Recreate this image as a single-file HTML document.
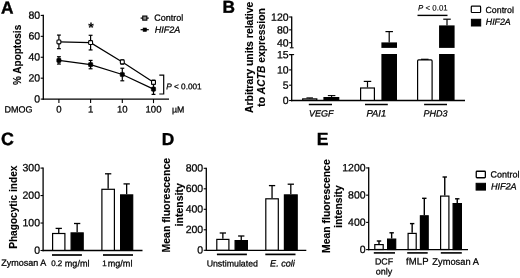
<!DOCTYPE html>
<html lang="en">
<head>
<meta charset="utf-8">
<title>Figure</title>
<style>
html,body{margin:0;padding:0;background:#fff;}
body{width:520px;height:278px;overflow:hidden;}
svg{display:block;font-family:"Liberation Sans", Arial, Helvetica, sans-serif;fill:#000;}
</style>
</head>
<body>
<svg width="520" height="278" viewBox="0 0 520 278">
<rect x="0" y="0" width="520" height="278" fill="#fff" stroke="none"/>
<text x="1.00" y="13.40" font-size="17.3" text-anchor="start" font-weight="bold" font-style="normal" stroke="#000" stroke-width="0.4" transform="rotate(0.03 1.00 13.40)" >A</text>
<line x1="43.30" y1="14.82" x2="43.30" y2="99.75" stroke="#000" stroke-width="1.3" />
<line x1="40.70" y1="99.10" x2="43.30" y2="99.10" stroke="#000" stroke-width="1.1" />
<text x="40.20" y="102.40" font-size="10.5" text-anchor="end" font-weight="normal" font-style="normal" stroke="#000" stroke-width="0.25" transform="rotate(0.03 40.20 102.40)" >0</text>
<line x1="40.70" y1="78.18" x2="43.30" y2="78.18" stroke="#000" stroke-width="1.1" />
<text x="40.20" y="81.48" font-size="10.5" text-anchor="end" font-weight="normal" font-style="normal" stroke="#000" stroke-width="0.25" transform="rotate(0.03 40.20 81.48)" >20</text>
<line x1="40.70" y1="57.26" x2="43.30" y2="57.26" stroke="#000" stroke-width="1.1" />
<text x="40.20" y="60.56" font-size="10.5" text-anchor="end" font-weight="normal" font-style="normal" stroke="#000" stroke-width="0.25" transform="rotate(0.03 40.20 60.56)" >40</text>
<line x1="40.70" y1="36.34" x2="43.30" y2="36.34" stroke="#000" stroke-width="1.1" />
<text x="40.20" y="39.64" font-size="10.5" text-anchor="end" font-weight="normal" font-style="normal" stroke="#000" stroke-width="0.25" transform="rotate(0.03 40.20 39.64)" >60</text>
<line x1="40.70" y1="15.42" x2="43.30" y2="15.42" stroke="#000" stroke-width="1.1" />
<text x="40.20" y="18.72" font-size="10.5" text-anchor="end" font-weight="normal" font-style="normal" stroke="#000" stroke-width="0.25" transform="rotate(0.03 40.20 18.72)" >80</text>
<line x1="42.65" y1="99.10" x2="169.00" y2="99.10" stroke="#000" stroke-width="1.3" />
<line x1="58.90" y1="99.10" x2="58.90" y2="103.10" stroke="#000" stroke-width="1.1" />
<line x1="90.60" y1="99.10" x2="90.60" y2="103.10" stroke="#000" stroke-width="1.1" />
<line x1="122.30" y1="99.10" x2="122.30" y2="103.10" stroke="#000" stroke-width="1.1" />
<line x1="153.50" y1="99.10" x2="153.50" y2="103.10" stroke="#000" stroke-width="1.1" />
<text x="58.90" y="112.40" font-size="9.6" text-anchor="middle" font-weight="normal" font-style="normal" stroke="#000" stroke-width="0.25" transform="rotate(0.03 58.90 112.40)" >0</text>
<text x="90.60" y="112.40" font-size="9.6" text-anchor="middle" font-weight="normal" font-style="normal" stroke="#000" stroke-width="0.25" transform="rotate(0.03 90.60 112.40)" >1</text>
<text x="122.30" y="112.40" font-size="9.6" text-anchor="middle" font-weight="normal" font-style="normal" stroke="#000" stroke-width="0.25" transform="rotate(0.03 122.30 112.40)" >10</text>
<text x="153.50" y="112.40" font-size="9.6" text-anchor="middle" font-weight="normal" font-style="normal" stroke="#000" stroke-width="0.25" transform="rotate(0.03 153.50 112.40)" >100</text>
<text x="4.60" y="112.40" font-size="9.0" text-anchor="start" font-weight="normal" font-style="normal" stroke="#000" stroke-width="0.25" transform="rotate(0.03 4.60 112.40)" >DMOG</text>
<text x="172.00" y="112.40" font-size="8.8" text-anchor="start" font-weight="normal" font-style="normal" stroke="#000" stroke-width="0.25" transform="rotate(0.03 172.00 112.40)" >µM</text>
<text x="21.40" y="54.90" font-size="10.0" text-anchor="middle" font-weight="bold" font-style="normal" stroke="#000" stroke-width="0.15" transform="rotate(-90 21.40 54.90)" >% Apoptosis</text>
<polyline points="58.90,41.88 90.60,42.62 122.30,61.97 153.50,82.36" fill="none" stroke="#000" stroke-width="1.2"/>
<polyline points="58.90,60.40 90.60,64.58 122.30,74.52 153.50,89.16" fill="none" stroke="#000" stroke-width="1.2"/>
<line x1="58.90" y1="56.74" x2="58.90" y2="64.06" stroke="#000" stroke-width="1.2" />
<line x1="56.95" y1="56.74" x2="60.85" y2="56.74" stroke="#000" stroke-width="1.2" />
<line x1="56.95" y1="64.06" x2="60.85" y2="64.06" stroke="#000" stroke-width="1.2" />
<rect x="56.80" y="58.30" width="4.20" height="4.20" fill="#000" stroke="#000" stroke-width="0.6" rx="0.8"/>
<line x1="90.60" y1="60.40" x2="90.60" y2="68.77" stroke="#000" stroke-width="1.2" />
<line x1="88.65" y1="60.40" x2="92.55" y2="60.40" stroke="#000" stroke-width="1.2" />
<line x1="88.65" y1="68.77" x2="92.55" y2="68.77" stroke="#000" stroke-width="1.2" />
<rect x="88.50" y="62.48" width="4.20" height="4.20" fill="#000" stroke="#000" stroke-width="0.6" rx="0.8"/>
<line x1="122.30" y1="68.24" x2="122.30" y2="80.79" stroke="#000" stroke-width="1.2" />
<line x1="120.35" y1="68.24" x2="124.25" y2="68.24" stroke="#000" stroke-width="1.2" />
<line x1="120.35" y1="80.79" x2="124.25" y2="80.79" stroke="#000" stroke-width="1.2" />
<rect x="120.20" y="72.42" width="4.20" height="4.20" fill="#000" stroke="#000" stroke-width="0.6" rx="0.8"/>
<line x1="153.50" y1="83.93" x2="153.50" y2="94.39" stroke="#000" stroke-width="1.2" />
<line x1="151.55" y1="83.93" x2="155.45" y2="83.93" stroke="#000" stroke-width="1.2" />
<line x1="151.55" y1="94.39" x2="155.45" y2="94.39" stroke="#000" stroke-width="1.2" />
<rect x="151.40" y="87.06" width="4.20" height="4.20" fill="#000" stroke="#000" stroke-width="0.6" rx="0.8"/>
<line x1="58.90" y1="35.08" x2="58.90" y2="48.68" stroke="#000" stroke-width="1.2" />
<line x1="56.95" y1="35.08" x2="60.85" y2="35.08" stroke="#000" stroke-width="1.2" />
<line x1="56.95" y1="48.68" x2="60.85" y2="48.68" stroke="#000" stroke-width="1.2" />
<rect x="56.95" y="39.93" width="3.90" height="3.90" fill="#fff" stroke="#000" stroke-width="1.1" rx="0.9"/>
<line x1="90.60" y1="35.29" x2="90.60" y2="49.94" stroke="#000" stroke-width="1.2" />
<line x1="88.65" y1="35.29" x2="92.55" y2="35.29" stroke="#000" stroke-width="1.2" />
<line x1="88.65" y1="49.94" x2="92.55" y2="49.94" stroke="#000" stroke-width="1.2" />
<rect x="88.65" y="40.67" width="3.90" height="3.90" fill="#fff" stroke="#000" stroke-width="1.1" rx="0.9"/>
<line x1="122.30" y1="59.87" x2="122.30" y2="64.06" stroke="#000" stroke-width="1.2" />
<line x1="120.35" y1="59.87" x2="124.25" y2="59.87" stroke="#000" stroke-width="1.2" />
<line x1="120.35" y1="64.06" x2="124.25" y2="64.06" stroke="#000" stroke-width="1.2" />
<rect x="120.35" y="60.02" width="3.90" height="3.90" fill="#fff" stroke="#000" stroke-width="1.1" rx="0.9"/>
<line x1="153.50" y1="80.27" x2="153.50" y2="84.46" stroke="#000" stroke-width="1.2" />
<line x1="151.55" y1="80.27" x2="155.45" y2="80.27" stroke="#000" stroke-width="1.2" />
<line x1="151.55" y1="84.46" x2="155.45" y2="84.46" stroke="#000" stroke-width="1.2" />
<rect x="151.55" y="80.41" width="3.90" height="3.90" fill="#fff" stroke="#000" stroke-width="1.1" rx="0.9"/>
<text x="91.10" y="32.30" font-size="14" text-anchor="middle" font-weight="bold" font-style="normal" stroke="#000" stroke-width="0.1" transform="rotate(0.03 91.10 32.30)" >*</text>
<line x1="140.60" y1="18.10" x2="148.80" y2="18.10" stroke="#000" stroke-width="1.2" />
<rect x="142.75" y="16.05" width="4.10" height="4.10" fill="#8a8a8a" stroke="#000" stroke-width="1.1" />
<line x1="140.60" y1="29.70" x2="148.80" y2="29.70" stroke="#000" stroke-width="1.2" />
<rect x="143.10" y="28.00" width="3.40" height="3.40" fill="#000" stroke="#000" stroke-width="0.6" />
<text x="154.20" y="20.70" font-size="9.0" text-anchor="start" font-weight="normal" font-style="normal" stroke="#000" stroke-width="0.25" transform="rotate(0.03 154.20 20.70)" >Control</text>
<text x="154.80" y="32.70" font-size="9.0" text-anchor="start" font-weight="normal" font-style="italic" stroke="#000" stroke-width="0.25" transform="rotate(0.03 154.80 32.70)" >HIF2A</text>
<polyline points="159.3,75.2 163.7,75.2 163.7,94.0 159.3,94.0" fill="none" stroke="#000" stroke-width="1.2"/>
<text x="166.3" y="89.2" font-size="8.2" stroke="#000" stroke-width="0.25" transform="rotate(0.03 166.3 89.2)"><tspan font-style="italic">P</tspan> &lt; 0.001</text>
<text x="222.60" y="12.70" font-size="17.3" text-anchor="start" font-weight="bold" font-style="normal" stroke="#000" stroke-width="0.4" transform="rotate(0.03 222.60 12.70)" >B</text>
<line x1="291.70" y1="16.40" x2="291.70" y2="47.60" stroke="#000" stroke-width="1.3" />
<line x1="289.10" y1="17.00" x2="291.70" y2="17.00" stroke="#000" stroke-width="1.1" />
<text x="288.60" y="20.70" font-size="10.5" text-anchor="end" font-weight="normal" font-style="normal" stroke="#000" stroke-width="0.25" transform="rotate(0.03 288.60 20.70)" >120</text>
<line x1="289.10" y1="29.85" x2="291.70" y2="29.85" stroke="#000" stroke-width="1.1" />
<text x="288.60" y="33.55" font-size="10.5" text-anchor="end" font-weight="normal" font-style="normal" stroke="#000" stroke-width="0.25" transform="rotate(0.03 288.60 33.55)" >80</text>
<line x1="289.10" y1="42.70" x2="291.70" y2="42.70" stroke="#000" stroke-width="1.1" />
<text x="288.60" y="46.40" font-size="10.5" text-anchor="end" font-weight="normal" font-style="normal" stroke="#000" stroke-width="0.25" transform="rotate(0.03 288.60 46.40)" >40</text>
<line x1="289.80" y1="47.80" x2="293.60" y2="47.80" stroke="#000" stroke-width="1.1" />
<line x1="291.70" y1="54.00" x2="291.70" y2="101.15" stroke="#000" stroke-width="1.3" />
<line x1="289.30" y1="54.60" x2="294.10" y2="54.60" stroke="#000" stroke-width="1.1" />
<line x1="289.10" y1="100.50" x2="291.70" y2="100.50" stroke="#000" stroke-width="1.1" />
<text x="288.60" y="104.10" font-size="10.5" text-anchor="end" font-weight="normal" font-style="normal" stroke="#000" stroke-width="0.25" transform="rotate(0.03 288.60 104.10)" >0</text>
<line x1="289.10" y1="85.20" x2="291.70" y2="85.20" stroke="#000" stroke-width="1.1" />
<text x="288.60" y="88.80" font-size="10.5" text-anchor="end" font-weight="normal" font-style="normal" stroke="#000" stroke-width="0.25" transform="rotate(0.03 288.60 88.80)" >5</text>
<line x1="289.10" y1="69.90" x2="291.70" y2="69.90" stroke="#000" stroke-width="1.1" />
<text x="288.60" y="73.50" font-size="10.5" text-anchor="end" font-weight="normal" font-style="normal" stroke="#000" stroke-width="0.25" transform="rotate(0.03 288.60 73.50)" >10</text>
<line x1="289.10" y1="54.60" x2="291.70" y2="54.60" stroke="#000" stroke-width="1.1" />
<text x="288.60" y="58.20" font-size="10.5" text-anchor="end" font-weight="normal" font-style="normal" stroke="#000" stroke-width="0.25" transform="rotate(0.03 288.60 58.20)" >15</text>
<line x1="291.05" y1="100.50" x2="465.00" y2="100.50" stroke="#000" stroke-width="1.3" />
<text x="253.30" y="57.30" font-size="10.44" text-anchor="middle" font-weight="bold" font-style="normal" stroke="#000" stroke-width="0.15" transform="rotate(-90 253.30 57.30)" >Arbitrary units relative</text>
<text x="265.4" y="57.5" font-size="10.3" text-anchor="middle" font-weight="bold" stroke="#000" stroke-width="0.1" transform="rotate(-90 265.4 57.5)">to <tspan font-style="italic">ACTB</tspan> expression</text>
<line x1="309.70" y1="98.60" x2="309.70" y2="97.90" stroke="#000" stroke-width="1.1" />
<line x1="306.45" y1="97.90" x2="312.95" y2="97.90" stroke="#000" stroke-width="1.1" />
<rect x="302.70" y="98.90" width="14.10" height="1.50" fill="#fff" stroke="#000" stroke-width="1.2" />
<line x1="331.60" y1="97.00" x2="331.60" y2="95.60" stroke="#000" stroke-width="1.1" />
<line x1="327.85" y1="95.60" x2="335.35" y2="95.60" stroke="#000" stroke-width="1.1" />
<rect x="324.00" y="97.60" width="14.70" height="2.80" fill="#000" stroke="#000" stroke-width="1.2" />
<line x1="367.50" y1="87.40" x2="367.50" y2="81.40" stroke="#000" stroke-width="1.2" />
<line x1="363.75" y1="81.40" x2="371.25" y2="81.40" stroke="#000" stroke-width="1.2" />
<rect x="360.60" y="88.00" width="13.80" height="12.40" fill="#fff" stroke="#000" stroke-width="1.2" />
<line x1="389.20" y1="42.40" x2="389.20" y2="31.60" stroke="#000" stroke-width="1.2" />
<line x1="385.45" y1="31.60" x2="392.95" y2="31.60" stroke="#000" stroke-width="1.2" />
<rect x="382.00" y="43.00" width="14.40" height="57.40" fill="#000" stroke="#000" stroke-width="1.2" />
<line x1="424.80" y1="60.00" x2="424.80" y2="59.30" stroke="#000" stroke-width="1.2" />
<line x1="421.05" y1="59.30" x2="428.55" y2="59.30" stroke="#000" stroke-width="1.2" />
<rect x="417.60" y="59.90" width="14.50" height="40.50" fill="#fff" stroke="#000" stroke-width="1.2" rx="1"/>
<line x1="447.00" y1="25.40" x2="447.00" y2="19.20" stroke="#000" stroke-width="1.2" />
<line x1="443.25" y1="19.20" x2="450.75" y2="19.20" stroke="#000" stroke-width="1.2" />
<rect x="439.70" y="26.00" width="14.30" height="74.40" fill="#000" stroke="#000" stroke-width="1.2" />
<rect x="378" y="47.9" width="82" height="6.1" fill="#fff"/>
<line x1="308.80" y1="104.50" x2="332.00" y2="104.50" stroke="#000" stroke-width="1.5" />
<line x1="365.00" y1="104.50" x2="387.80" y2="104.50" stroke="#000" stroke-width="1.5" />
<line x1="424.10" y1="104.50" x2="447.00" y2="104.50" stroke="#000" stroke-width="1.5" />
<text x="321.20" y="116.40" font-size="9" text-anchor="middle" font-weight="normal" font-style="italic" stroke="#000" stroke-width="0.25" transform="rotate(0.03 321.20 116.40)" >VEGF</text>
<text x="376.30" y="116.40" font-size="9.4" text-anchor="middle" font-weight="normal" font-style="italic" stroke="#000" stroke-width="0.25" transform="rotate(0.03 376.30 116.40)" >PAI1</text>
<text x="435.40" y="116.40" font-size="9" text-anchor="middle" font-weight="normal" font-style="italic" stroke="#000" stroke-width="0.25" transform="rotate(0.03 435.40 116.40)" >PHD3</text>
<line x1="417.50" y1="15.40" x2="447.50" y2="15.40" stroke="#000" stroke-width="1.4" />
<text x="432.9" y="10.6" font-size="7.9" text-anchor="middle" stroke="#000" stroke-width="0.12" transform="rotate(0.03 432.9 10.6)"><tspan font-style="italic">P</tspan> &lt; 0.01</text>
<rect x="471.30" y="6.20" width="9.30" height="6.30" fill="#fff" stroke="#000" stroke-width="1.2" rx="0.8"/>
<rect x="471.40" y="19.30" width="9.30" height="6.70" fill="#000" stroke="#000" stroke-width="1.0" />
<text x="485.50" y="12.90" font-size="8.8" text-anchor="start" font-weight="normal" font-style="normal" stroke="#000" stroke-width="0.25" transform="rotate(0.03 485.50 12.90)" >Control</text>
<text x="485.80" y="24.80" font-size="8.8" text-anchor="start" font-weight="normal" font-style="italic" stroke="#000" stroke-width="0.25" transform="rotate(0.03 485.80 24.80)" >HIF2A</text>
<text x="1.00" y="145.10" font-size="17.8" text-anchor="start" font-weight="bold" font-style="normal" stroke="#000" stroke-width="0.4" transform="rotate(0.03 1.00 145.10)" >C</text>
<line x1="43.10" y1="167.49" x2="43.10" y2="251.15" stroke="#000" stroke-width="1.3" />
<line x1="40.50" y1="250.50" x2="43.10" y2="250.50" stroke="#000" stroke-width="1.1" />
<text x="40.00" y="253.80" font-size="10.5" text-anchor="end" font-weight="normal" font-style="normal" stroke="#000" stroke-width="0.25" transform="rotate(0.03 40.00 253.80)" >0</text>
<line x1="40.50" y1="223.03" x2="43.10" y2="223.03" stroke="#000" stroke-width="1.1" />
<text x="40.00" y="226.33" font-size="10.5" text-anchor="end" font-weight="normal" font-style="normal" stroke="#000" stroke-width="0.25" transform="rotate(0.03 40.00 226.33)" >100</text>
<line x1="40.50" y1="195.56" x2="43.10" y2="195.56" stroke="#000" stroke-width="1.1" />
<text x="40.00" y="198.86" font-size="10.5" text-anchor="end" font-weight="normal" font-style="normal" stroke="#000" stroke-width="0.25" transform="rotate(0.03 40.00 198.86)" >200</text>
<line x1="40.50" y1="168.09" x2="43.10" y2="168.09" stroke="#000" stroke-width="1.1" />
<text x="40.00" y="171.39" font-size="10.5" text-anchor="end" font-weight="normal" font-style="normal" stroke="#000" stroke-width="0.25" transform="rotate(0.03 40.00 171.39)" >300</text>
<line x1="42.45" y1="250.50" x2="142.50" y2="250.50" stroke="#000" stroke-width="1.3" />
<line x1="58.75" y1="232.90" x2="58.75" y2="228.40" stroke="#000" stroke-width="1.3" />
<line x1="55.60" y1="228.40" x2="61.90" y2="228.40" stroke="#000" stroke-width="1.3" />
<rect x="52.60" y="233.50" width="12.30" height="16.90" fill="#fff" stroke="#000" stroke-width="1.2" />
<line x1="77.15" y1="232.30" x2="77.15" y2="223.50" stroke="#000" stroke-width="1.3" />
<line x1="74.00" y1="223.50" x2="80.30" y2="223.50" stroke="#000" stroke-width="1.3" />
<rect x="71.10" y="232.90" width="12.10" height="17.50" fill="#000" stroke="#000" stroke-width="1.2" />
<line x1="108.15" y1="188.70" x2="108.15" y2="173.80" stroke="#000" stroke-width="1.3" />
<line x1="105.00" y1="173.80" x2="111.30" y2="173.80" stroke="#000" stroke-width="1.3" />
<rect x="101.90" y="189.30" width="12.50" height="61.10" fill="#fff" stroke="#000" stroke-width="1.2" />
<line x1="126.65" y1="194.30" x2="126.65" y2="183.90" stroke="#000" stroke-width="1.3" />
<line x1="123.50" y1="183.90" x2="129.80" y2="183.90" stroke="#000" stroke-width="1.3" />
<rect x="120.60" y="194.90" width="12.10" height="55.50" fill="#000" stroke="#000" stroke-width="1.2" />
<line x1="52.00" y1="255.00" x2="81.90" y2="255.00" stroke="#000" stroke-width="1.7" />
<line x1="103.00" y1="255.00" x2="133.00" y2="255.00" stroke="#000" stroke-width="1.7" />
<text x="1.30" y="265.80" font-size="9.0" text-anchor="start" font-weight="normal" font-style="normal" stroke="#000" stroke-width="0.25" transform="rotate(0.03 1.30 265.80)" >Zymosan A</text>
<text x="51.20" y="265.9" font-size="8" stroke="#000" stroke-width="0.25" transform="rotate(0.03 51.20 265.9)">0.2 <tspan font-size="9.1" x="64.80" dy="0.7">mg/ml</tspan></text>
<text x="102.20" y="265.9" font-size="8" stroke="#000" stroke-width="0.25" transform="rotate(0.03 102.20 265.9)">1 <tspan font-size="9.1" x="107.70" dy="0.7">mg/ml</tspan></text>
<text x="16.60" y="207.20" font-size="10.15" text-anchor="middle" font-weight="bold" font-style="normal" stroke="#000" stroke-width="0.1" transform="rotate(-90 16.60 207.20)" >Phagocytic index</text>
<text x="161.70" y="145.10" font-size="17.3" text-anchor="start" font-weight="bold" font-style="normal" stroke="#000" stroke-width="0.4" transform="rotate(0.03 161.70 145.10)" >D</text>
<line x1="206.30" y1="167.70" x2="206.30" y2="250.95" stroke="#000" stroke-width="1.3" />
<line x1="203.70" y1="250.30" x2="206.30" y2="250.30" stroke="#000" stroke-width="1.1" />
<text x="203.20" y="253.60" font-size="10.5" text-anchor="end" font-weight="normal" font-style="normal" stroke="#000" stroke-width="0.25" transform="rotate(0.03 203.20 253.60)" >0</text>
<line x1="203.70" y1="229.80" x2="206.30" y2="229.80" stroke="#000" stroke-width="1.1" />
<text x="203.20" y="233.10" font-size="10.5" text-anchor="end" font-weight="normal" font-style="normal" stroke="#000" stroke-width="0.25" transform="rotate(0.03 203.20 233.10)" >200</text>
<line x1="203.70" y1="209.30" x2="206.30" y2="209.30" stroke="#000" stroke-width="1.1" />
<text x="203.20" y="212.60" font-size="10.5" text-anchor="end" font-weight="normal" font-style="normal" stroke="#000" stroke-width="0.25" transform="rotate(0.03 203.20 212.60)" >400</text>
<line x1="203.70" y1="188.80" x2="206.30" y2="188.80" stroke="#000" stroke-width="1.1" />
<text x="203.20" y="192.10" font-size="10.5" text-anchor="end" font-weight="normal" font-style="normal" stroke="#000" stroke-width="0.25" transform="rotate(0.03 203.20 192.10)" >600</text>
<line x1="203.70" y1="168.30" x2="206.30" y2="168.30" stroke="#000" stroke-width="1.1" />
<text x="203.20" y="171.60" font-size="10.5" text-anchor="end" font-weight="normal" font-style="normal" stroke="#000" stroke-width="0.25" transform="rotate(0.03 203.20 171.60)" >800</text>
<line x1="205.65" y1="250.30" x2="306.30" y2="250.30" stroke="#000" stroke-width="1.3" />
<line x1="222.85" y1="238.80" x2="222.85" y2="233.00" stroke="#000" stroke-width="1.3" />
<line x1="219.70" y1="233.00" x2="226.00" y2="233.00" stroke="#000" stroke-width="1.3" />
<rect x="216.80" y="239.40" width="12.10" height="10.80" fill="#fff" stroke="#000" stroke-width="1.2" />
<line x1="241.25" y1="240.00" x2="241.25" y2="236.00" stroke="#000" stroke-width="1.3" />
<line x1="238.10" y1="236.00" x2="244.40" y2="236.00" stroke="#000" stroke-width="1.3" />
<rect x="235.10" y="240.60" width="12.30" height="9.60" fill="#000" stroke="#000" stroke-width="1.2" />
<line x1="272.05" y1="198.20" x2="272.05" y2="185.60" stroke="#000" stroke-width="1.3" />
<line x1="268.90" y1="185.60" x2="275.20" y2="185.60" stroke="#000" stroke-width="1.3" />
<rect x="265.80" y="198.80" width="12.50" height="51.40" fill="#fff" stroke="#000" stroke-width="1.2" />
<line x1="290.80" y1="194.30" x2="290.80" y2="184.20" stroke="#000" stroke-width="1.3" />
<line x1="287.65" y1="184.20" x2="293.95" y2="184.20" stroke="#000" stroke-width="1.3" />
<rect x="284.40" y="194.90" width="12.80" height="55.30" fill="#000" stroke="#000" stroke-width="1.2" />
<line x1="216.90" y1="254.40" x2="246.90" y2="254.40" stroke="#000" stroke-width="1.7" />
<line x1="265.30" y1="254.40" x2="295.50" y2="254.40" stroke="#000" stroke-width="1.7" />
<text x="232.30" y="266.50" font-size="8.8" text-anchor="middle" font-weight="normal" font-style="normal" stroke="#000" stroke-width="0.25" transform="rotate(0.03 232.30 266.50)" >Unstimulated</text>
<text x="282.50" y="266.50" font-size="9.1" text-anchor="middle" font-weight="normal" font-style="italic" stroke="#000" stroke-width="0.25" transform="rotate(0.03 282.50 266.50)" >E. coli</text>
<text x="170.50" y="205.20" font-size="10.5" text-anchor="middle" font-weight="bold" font-style="normal" stroke="#000" stroke-width="0.15" transform="rotate(-90 170.50 205.20)" >Mean fluorescence</text>
<text x="183.00" y="204.80" font-size="10.5" text-anchor="middle" font-weight="bold" font-style="normal" stroke="#000" stroke-width="0.15" transform="rotate(-90 183.00 204.80)" >intensity</text>
<text x="316.70" y="144.90" font-size="17.6" text-anchor="start" font-weight="bold" font-style="normal" stroke="#000" stroke-width="0.4" transform="rotate(0.03 316.70 144.90)" >E</text>
<line x1="368.70" y1="167.34" x2="368.70" y2="250.25" stroke="#000" stroke-width="1.3" />
<line x1="366.10" y1="249.60" x2="368.70" y2="249.60" stroke="#000" stroke-width="1.1" />
<text x="365.60" y="252.90" font-size="10.5" text-anchor="end" font-weight="normal" font-style="normal" stroke="#000" stroke-width="0.25" transform="rotate(0.03 365.60 252.90)" >0</text>
<line x1="366.10" y1="222.38" x2="368.70" y2="222.38" stroke="#000" stroke-width="1.1" />
<text x="365.60" y="225.68" font-size="10.5" text-anchor="end" font-weight="normal" font-style="normal" stroke="#000" stroke-width="0.25" transform="rotate(0.03 365.60 225.68)" >400</text>
<line x1="366.10" y1="195.16" x2="368.70" y2="195.16" stroke="#000" stroke-width="1.1" />
<text x="365.60" y="198.46" font-size="10.5" text-anchor="end" font-weight="normal" font-style="normal" stroke="#000" stroke-width="0.25" transform="rotate(0.03 365.60 198.46)" >800</text>
<line x1="366.10" y1="167.94" x2="368.70" y2="167.94" stroke="#000" stroke-width="1.1" />
<text x="365.60" y="171.24" font-size="10.5" text-anchor="end" font-weight="normal" font-style="normal" stroke="#000" stroke-width="0.25" transform="rotate(0.03 365.60 171.24)" >1200</text>
<line x1="368.05" y1="249.60" x2="468.00" y2="249.60" stroke="#000" stroke-width="1.3" />
<line x1="379.00" y1="244.00" x2="379.00" y2="241.00" stroke="#000" stroke-width="1.4" />
<line x1="376.80" y1="241.00" x2="381.20" y2="241.00" stroke="#000" stroke-width="1.4" />
<rect x="374.80" y="244.60" width="8.40" height="4.90" fill="#fff" stroke="#000" stroke-width="1.2" />
<line x1="391.65" y1="238.50" x2="391.65" y2="232.80" stroke="#000" stroke-width="1.4" />
<line x1="389.45" y1="232.80" x2="393.85" y2="232.80" stroke="#000" stroke-width="1.4" />
<rect x="387.60" y="239.10" width="8.10" height="10.40" fill="#000" stroke="#000" stroke-width="1.2" />
<line x1="412.15" y1="232.80" x2="412.15" y2="223.60" stroke="#000" stroke-width="1.4" />
<line x1="409.95" y1="223.60" x2="414.35" y2="223.60" stroke="#000" stroke-width="1.4" />
<rect x="408.10" y="233.40" width="8.10" height="16.10" fill="#fff" stroke="#000" stroke-width="1.2" />
<line x1="424.30" y1="215.20" x2="424.30" y2="198.30" stroke="#000" stroke-width="1.4" />
<line x1="422.10" y1="198.30" x2="426.50" y2="198.30" stroke="#000" stroke-width="1.4" />
<rect x="420.40" y="215.80" width="7.80" height="33.70" fill="#000" stroke="#000" stroke-width="1.2" />
<line x1="444.75" y1="195.50" x2="444.75" y2="177.00" stroke="#000" stroke-width="1.4" />
<line x1="442.55" y1="177.00" x2="446.95" y2="177.00" stroke="#000" stroke-width="1.4" />
<rect x="440.60" y="196.10" width="8.30" height="53.40" fill="#fff" stroke="#000" stroke-width="1.2" />
<line x1="457.25" y1="203.00" x2="457.25" y2="198.80" stroke="#000" stroke-width="1.4" />
<line x1="455.05" y1="198.80" x2="459.45" y2="198.80" stroke="#000" stroke-width="1.4" />
<rect x="453.10" y="203.60" width="8.30" height="45.90" fill="#000" stroke="#000" stroke-width="1.2" />
<line x1="373.80" y1="252.90" x2="395.00" y2="252.90" stroke="#000" stroke-width="1.6" />
<line x1="407.20" y1="252.90" x2="427.70" y2="252.90" stroke="#000" stroke-width="1.6" />
<line x1="440.80" y1="252.90" x2="461.80" y2="252.90" stroke="#000" stroke-width="1.6" />
<text x="384.00" y="264.60" font-size="8.9" text-anchor="middle" font-weight="normal" font-style="normal" stroke="#000" stroke-width="0.25" transform="rotate(0.03 384.00 264.60)" >DCF</text>
<text x="384.10" y="274.60" font-size="9.0" text-anchor="middle" font-weight="normal" font-style="normal" stroke="#000" stroke-width="0.25" transform="rotate(0.03 384.10 274.60)" >only</text>
<text x="417.40" y="264.60" font-size="9.5" text-anchor="middle" font-weight="normal" font-style="normal" stroke="#000" stroke-width="0.25" transform="rotate(0.03 417.40 264.60)" letter-spacing="0.15">fMLP</text>
<text x="455.60" y="264.70" font-size="9.3" text-anchor="middle" font-weight="normal" font-style="normal" stroke="#000" stroke-width="0.25" transform="rotate(0.03 455.60 264.70)" >Zymosan A</text>
<rect x="476.25" y="171.25" width="9.10" height="6.50" fill="#fff" stroke="#000" stroke-width="1.3" rx="0.8"/>
<rect x="476.10" y="183.30" width="9.40" height="6.80" fill="#000" stroke="#000" stroke-width="1.0" />
<text x="490.60" y="177.50" font-size="9.0" text-anchor="start" font-weight="normal" font-style="normal" stroke="#000" stroke-width="0.25" transform="rotate(0.03 490.60 177.50)" >Control</text>
<text x="490.90" y="189.40" font-size="9.1" text-anchor="start" font-weight="normal" font-style="italic" stroke="#000" stroke-width="0.25" transform="rotate(0.03 490.90 189.40)" >HIF2A</text>
<text x="330.40" y="206.10" font-size="10.4" text-anchor="middle" font-weight="bold" font-style="normal" stroke="#000" stroke-width="0.15" transform="rotate(-90 330.40 206.10)" >Mean fluorescence</text>
<text x="342.50" y="206.60" font-size="10.4" text-anchor="middle" font-weight="bold" font-style="normal" stroke="#000" stroke-width="0.15" transform="rotate(-90 342.50 206.60)" >intensity</text>
</svg>
</body>
</html>
